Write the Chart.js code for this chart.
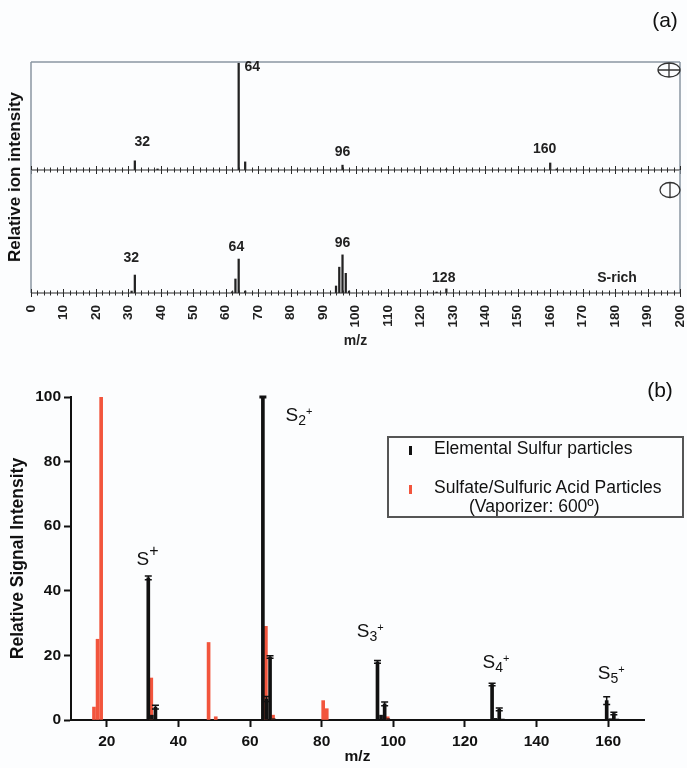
<!DOCTYPE html>
<html lang="en">
<head>
  <meta charset="UTF-8">
  <title>Sulfur mass spectra</title>
  <script src="https://cdn.jsdelivr.net/npm/chart.js"></script>
  <style>
    body {
      margin: 0;
      width: 687px;
      height: 768px;
      position: relative;
      overflow: hidden;
      background: #fcfdfe;
      font-family: "Liberation Sans", Arial, sans-serif;
      color: #111;
    }
    canvas { position: absolute; left: 0; }
    #a1 { top: 0; }
    #a2 { top: 160px; }
    #b { top: 370px; }
    .rot {
      position: absolute;
      font-weight: bold;
      font-size: 17px;
      white-space: nowrap;
      transform: translate(-50%, -50%) rotate(-90deg);
    }
    .tag {
      position: absolute;
      font-size: 21px;
      transform: translate(-50%, -50%);
    }
    #legend {
      position: absolute;
      left: 387px;
      top: 436px;
      width: 297px;
      height: 82px;
      border: 2px solid #555;
      box-sizing: border-box;
      font-size: 17.5px;
    }
    #legend .mk { position: absolute; width: 3px; height: 9px; }
    #legend .txt { position: absolute; white-space: nowrap; line-height: 18px; }
  </style>
</head>
<body>

  <canvas id="a1" width="687" height="180"></canvas>
  <canvas id="a2" width="687" height="200"></canvas>
  <canvas id="b" width="687" height="398"></canvas>

  <div class="tag" style="left:665px; top:20px;">(a)</div>
  <div class="tag" style="left:660px; top:390px;">(b)</div>
  <div class="rot" style="left:15px; top:177px;">Relative ion intensity</div>

  <div id="legend">
    <span class="mk" style="left:20px; top:8px; background:#111;"></span>
    <span class="txt" style="left:45px; top:1px;">Elemental Sulfur particles</span>
    <span class="mk" style="left:20px; top:47px; background:#f2553d;"></span>
    <span class="txt" style="left:45px; top:40px;">Sulfate/Sulfuric Acid Particles</span>
    <span class="txt" style="left:80px; top:59px;">(Vaporizer: 600º)</span>
  </div>

  <script>
    // ---- panel (a): single particle spectra ----
    const aTickLabels = [0, 10, 20, 30, 40, 50, 60, 70, 80, 90, 100, 110, 120, 130, 140, 150, 160, 170, 180, 190, 200];

    const posMz  = [32, 39, 64, 66, 96, 128, 160, 162];
    const posVal = [8.5, 1, 99, 7.5, 4.5, 0.8, 6.5, 1];

    const negMz  = [31, 32, 62, 63, 64, 66, 94, 95, 96, 97, 98, 125, 128];
    const negVal = [1.6, 14.6, 1, 11.4, 27.6, 1.6, 5.7, 21, 31, 16, 1.6, 0.8, 3.3];

    // ---- panel (b): averaged spectra ----
    const bTicksX = [20, 40, 60, 80, 100, 120, 140, 160];
    const bTicksY = [0, 20, 40, 60, 80, 100];

    const sulfurMz  = [32, 33, 34, 64, 65, 66, 67, 96, 97, 98, 99, 128, 129, 130, 131, 160, 161, 162, 163];
    const sulfurVal = [44, 1.5, 4, 100, 6.5, 19.5, 0.4, 18, 1.5, 5, 0.4, 11, 0.5, 3.3, 0.3, 6, 0.4, 2, 0.3];
    const sulfurErr = [0.6, 0, 0.6, 0.2, 0.8, 0.4, 0, 0.4, 0, 0.6, 0, 0.4, 0, 0.4, 0, 1.2, 0, 0.4, 0];

    const sulfateMz  = [16, 17, 18, 32, 48, 50, 64, 66, 80, 81, 98];
    const sulfateVal = [4, 25, 100, 13, 24, 1, 29, 1.5, 6, 3.5, 1];

    Chart.defaults.font.family = "'Liberation Sans', Arial, sans-serif";
    Chart.defaults.color = '#111';

    const toPoints = (xs, ys) => xs.map((m, i) => ({ x: m, y: ys[i] }));

    // box lines around panel (a)
    const frame = {
      id: 'frame',
      afterDatasetsDraw(chart, args, opts) {
        const { ctx, chartArea: c } = chart;
        ctx.save();
        ctx.strokeStyle = '#8a96a3';
        ctx.lineWidth = 1.5;
        ctx.beginPath();
        if (opts.top) {
          ctx.moveTo(c.left, c.top);
          ctx.lineTo(c.right, c.top);
        }
        ctx.moveTo(c.left, c.top);
        ctx.lineTo(c.left, c.bottom);
        ctx.moveTo(c.right, c.top);
        ctx.lineTo(c.right, c.bottom);
        ctx.stroke();
        ctx.restore();
      }
    };

    // baseline with ticks crossing it, minor every 2, major every 10
    const baseTicks = {
      id: 'baseTicks',
      afterDatasetsDraw(chart) {
        const { ctx, chartArea: c, scales: { x } } = chart;
        const y0 = c.bottom;
        ctx.save();
        ctx.strokeStyle = '#2a2a2a';
        ctx.lineWidth = 1;
        ctx.beginPath();
        ctx.moveTo(c.left, y0);
        ctx.lineTo(c.right, y0);
        for (let v = x.min; v <= x.max; v += 2) {
          const px = Math.round(x.getPixelForValue(v)) + 0.5;
          const len = v % 10 === 0 ? 4 : 2.5;
          ctx.moveTo(px, y0 - len);
          ctx.lineTo(px, y0 + len);
        }
        ctx.stroke();
        ctx.restore();
      }
    };

    const peakLabels = {
      id: 'peakLabels',
      afterDatasetsDraw(chart, args, opts) {
        const { ctx, scales: { x, y } } = chart;
        ctx.save();
        ctx.fillStyle = '#222';
        ctx.font = "bold 14px 'Liberation Sans', Arial";
        ctx.textAlign = 'center';
        ctx.textBaseline = 'middle';
        opts.items.forEach(it => {
          ctx.fillText(it.text, x.getPixelForValue(it.mz), y.getPixelForValue(it.y));
        });
        ctx.restore();
      }
    };

    // circled + / circled | polarity marks
    const polarity = {
      id: 'polarity',
      afterDraw(chart, args, opts) {
        const ctx = chart.ctx;
        ctx.save();
        ctx.strokeStyle = '#333';
        ctx.lineWidth = 1.3;
        ctx.beginPath();
        ctx.ellipse(opts.cx, opts.cy, opts.rx, opts.ry, 0, 0, Math.PI * 2);
        ctx.moveTo(opts.cx, opts.cy - opts.ry);
        ctx.lineTo(opts.cx, opts.cy + opts.ry);
        if (opts.plus) {
          ctx.moveTo(opts.cx - opts.rx, opts.cy);
          ctx.lineTo(opts.cx + opts.rx, opts.cy);
        }
        ctx.stroke();
        ctx.restore();
      }
    };

    new Chart(document.getElementById('a1'), {
      type: 'bar',
      data: {
        datasets: [{
          data: toPoints(posMz, posVal),
          backgroundColor: '#222',
          barThickness: 1.6
        }]
      },
      options: {
        responsive: false,
        animation: false,
        layout: { padding: { left: 31, right: 7, top: 62, bottom: 10 } },
        plugins: {
          legend: { display: false },
          tooltip: { enabled: false },
          frame: { top: true },
          peakLabels: {
            items: [
              { text: '32', mz: 34.3, y: 26 },
              { text: '64', mz: 68.2, y: 95 },
              { text: '96', mz: 96, y: 16.7 },
              { text: '160', mz: 158.3, y: 19.4 }
            ]
          },
          polarity: { cx: 669, cy: 70, rx: 11, ry: 7, plus: true }
        },
        scales: {
          x: { type: 'linear', min: 0, max: 200, offset: false, display: false },
          y: { min: 0, max: 100, display: false }
        }
      },
      plugins: [frame, baseTicks, peakLabels, polarity]
    });

    new Chart(document.getElementById('a2'), {
      type: 'bar',
      data: {
        datasets: [{
          data: toPoints(negMz, negVal),
          backgroundColor: '#222',
          barThickness: 1.6
        }]
      },
      options: {
        responsive: false,
        animation: false,
        layout: { padding: { left: 31, right: 7, top: 10, bottom: 0 } },
        plugins: {
          legend: { display: false },
          tooltip: { enabled: false },
          frame: { top: false },
          peakLabels: {
            items: [
              { text: '32', mz: 30.9, y: 28.5 },
              { text: '64', mz: 63.3, y: 37.4 },
              { text: '96', mz: 96, y: 40.7 },
              { text: '128', mz: 127.2, y: 12.2 },
              { text: 'S-rich', mz: 180.6, y: 12.2 }
            ]
          },
          polarity: { cx: 670, cy: 30, rx: 10, ry: 7.5, plus: false }
        },
        scales: {
          x: {
            type: 'linear', min: 0, max: 200, offset: false,
            grid: { display: false, drawTicks: false, offset: false },
            border: { display: false },
            ticks: { font: { weight: 'bold', size: 13.5 }, minRotation: 90, maxRotation: 90, padding: 12, autoSkip: false, color: '#222' },
            afterBuildTicks: s => { s.ticks = aTickLabels.map(v => ({ value: v })); },
            afterFit: s => { s.height = 67; s.paddingLeft = 0; s.paddingRight = 0; },
            title: { display: true, text: 'm/z', font: { weight: 'bold', size: 14 }, padding: { bottom: 10 }, color: '#222' }
          },
          y: { min: 0, max: 100, display: false }
        }
      },
      plugins: [frame, baseTicks, peakLabels, polarity]
    });

    const errorBars = {
      id: 'errorBars',
      afterDatasetsDraw(chart, args, opts) {
        const meta = chart.getDatasetMeta(0);
        const y = chart.scales.y;
        const ctx = chart.ctx;
        const data = chart.data.datasets[0].data;
        ctx.save();
        ctx.strokeStyle = '#111';
        ctx.lineWidth = 1.5;
        meta.data.forEach((bar, i) => {
          const e = opts.errors[i];
          if (!e) return;
          const v = data[i].y;
          const yt = y.getPixelForValue(v + e);
          const yb = y.getPixelForValue(v - e);
          ctx.beginPath();
          ctx.moveTo(bar.x, yb);
          ctx.lineTo(bar.x, yt);
          ctx.moveTo(bar.x - 3.5, yt);
          ctx.lineTo(bar.x + 3.5, yt);
          ctx.moveTo(bar.x - 3.5, yb);
          ctx.lineTo(bar.x + 3.5, yb);
          ctx.stroke();
        });
        ctx.restore();
      }
    };

    const ionLabels = {
      id: 'ionLabels',
      afterDraw(chart, args, opts) {
        const { ctx, scales: { x, y } } = chart;
        ctx.save();
        ctx.fillStyle = '#111';
        ctx.textBaseline = 'alphabetic';
        opts.items.forEach(it => {
          let px = x.getPixelForValue(it.mz);
          const py = y.getPixelForValue(it.y);
          ctx.font = "19px 'Liberation Sans', Arial";
          ctx.fillText('S', px, py);
          px += ctx.measureText('S').width;
          if (it.sub) {
            ctx.font = "14px 'Liberation Sans', Arial";
            ctx.fillText(it.sub, px, py + 4);
            px += ctx.measureText(it.sub).width;
            ctx.font = "11px 'Liberation Sans', Arial";
            ctx.fillText('+', px, py - 6);
          } else {
            ctx.font = "16px 'Liberation Sans', Arial";
            ctx.fillText('+', px, py - 9);
          }
        });
        ctx.restore();
      }
    };

    new Chart(document.getElementById('b'), {
      type: 'bar',
      data: {
        datasets: [
          {
            label: 'Elemental Sulfur particles',
            data: toPoints(sulfurMz, sulfurVal),
            backgroundColor: '#111',
            barThickness: 3,
            order: 0
          },
          {
            label: 'Sulfate/Sulfuric Acid Particles',
            data: toPoints(sulfateMz, sulfateVal),
            backgroundColor: '#f2553d',
            barThickness: 3,
            order: 1
          }
        ]
      },
      options: {
        responsive: false,
        animation: false,
        layout: { padding: { left: 0, right: 43, top: 27, bottom: 0 } },
        plugins: {
          legend: { display: false },
          tooltip: { enabled: false },
          errorBars: { errors: sulfurErr },
          ionLabels: {
            items: [
              { sub: '', mz: 28.3, y: 48 },
              { sub: '2', mz: 69.9, y: 92.6 },
              { sub: '3', mz: 89.8, y: 25.7 },
              { sub: '4', mz: 124.9, y: 16.1 },
              { sub: '5', mz: 157.1, y: 12.7 }
            ]
          }
        },
        scales: {
          x: {
            type: 'linear', min: 10, max: 170, offset: false,
            grid: { drawOnChartArea: false, drawTicks: true, tickLength: 7, tickWidth: 2, color: '#111', offset: false },
            border: { display: true, width: 2, color: '#111' },
            ticks: { font: { weight: 'bold', size: 15.5 }, padding: 5, color: '#111' },
            afterBuildTicks: s => { s.ticks = bTicksX.map(v => ({ value: v })); },
            afterFit: s => { s.height = 48; s.paddingLeft = 0; s.paddingRight = 0; },
            title: { display: true, text: 'm/z', font: { weight: 'bold', size: 15.5 }, padding: { bottom: 2 } }
          },
          y: {
            min: 0, max: 100,
            grid: { drawOnChartArea: false, drawTicks: true, tickLength: 7, tickWidth: 2, color: '#111' },
            border: { display: true, width: 2, color: '#111' },
            ticks: { font: { weight: 'bold', size: 15.5 }, padding: 3, color: '#111' },
            afterBuildTicks: s => { s.ticks = bTicksY.map(v => ({ value: v })); },
            afterFit: s => { s.width = 71; s.paddingTop = 0; s.paddingBottom = 0; },
            title: { display: true, text: 'Relative Signal Intensity', font: { weight: 'bold', size: 17.5 }, padding: { top: 8 } }
          }
        }
      },
      plugins: [errorBars, ionLabels]
    });
  </script>
</body>
</html>
